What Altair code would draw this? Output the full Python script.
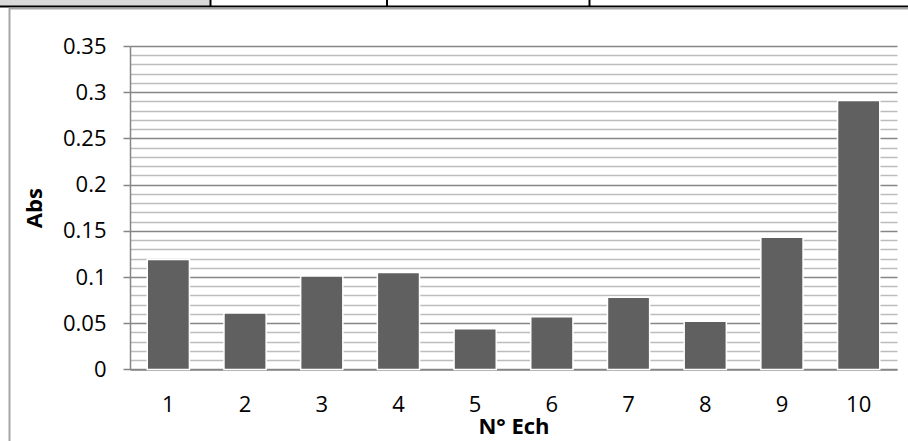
import altair as alt
import pandas as pd

# ---- data ----
samples = ["1", "2", "3", "4", "5", "6", "7", "8", "9", "10"]
absorbance = [0.119, 0.061, 0.101, 0.105, 0.044, 0.057, 0.078, 0.052, 0.143, 0.291]
major_ticks = [0, 0.05, 0.1, 0.15, 0.2, 0.25, 0.3, 0.35]
minor_ticks = [0.01, 0.02, 0.03, 0.04, 0.06, 0.07, 0.08, 0.09,
               0.11, 0.12, 0.13, 0.14, 0.16, 0.17, 0.18, 0.19,
               0.21, 0.22, 0.23, 0.24, 0.26, 0.27, 0.28, 0.29,
               0.31, 0.32, 0.33, 0.34]

df = pd.DataFrame({"ech": samples, "abs": absorbance})

FONT = "Open Sans"
GRID_MAJOR = "#868686"
GRID_MINOR = "#bdbdbd"

yscale = alt.Scale(domain=[0, 0.35], nice=False, zero=True)
xscale = alt.Scale(paddingInner=0.45, paddingOuter=0.225)

x_axis = alt.Axis(
    title="N° Ech", titleFont=FONT, titleFontSize=22, titleFontWeight="bold",
    titleColor="black", titlePadding=1,
    labelFont=FONT, labelFontSize=22, labelColor="black", labelAngle=0,
    labelPadding=25, ticks=False, domainColor=GRID_MAJOR, domainWidth=1.5,
    grid=False,
)

y_axis = alt.Axis(
    title="Abs", titleFont=FONT, titleFontSize=22, titleFontWeight="bold",
    titleColor="black", titlePadding=16,
    labelFont=FONT, labelFontSize=22, labelColor="black",
    labelPadding=17, values=major_ticks, format="~g",
    tickSize=7, tickColor=GRID_MAJOR, tickWidth=1.5,
    domainColor=GRID_MAJOR, domainWidth=1.5,
    grid=True, gridColor=GRID_MAJOR, gridWidth=1.5,
)

minor_axis = alt.Axis(
    orient="right", title=None, labels=False, ticks=False, domain=False,
    values=minor_ticks, grid=True, gridColor=GRID_MINOR, gridWidth=1.6,
)

minor = alt.Chart(df).mark_point(opacity=0).encode(
    x=alt.X("ech:O", sort=None, scale=xscale, axis=x_axis),
    y=alt.Y("abs:Q", scale=yscale, axis=minor_axis),
)

bars = alt.Chart(df).mark_bar(color="#606060", stroke="white", strokeWidth=1.5).encode(
    x=alt.X("ech:O", sort=None, scale=xscale, axis=x_axis),
    y=alt.Y("abs:Q", scale=yscale, axis=y_axis),
)

one = pd.DataFrame({"k": [0]})

# decorations: spreadsheet cells above and the chart frame
cell_fill = alt.Chart(one).mark_rect(color="#d9d9d9").encode(
    x=alt.value(-130), x2=alt.value(80), y=alt.value(-46), y2=alt.value(-40))
cell_line = alt.Chart(one).mark_rule(color="black", strokeWidth=2).encode(
    x=alt.value(-130), x2=alt.value(778), y=alt.value(-39.5))
cell_v1 = alt.Chart(one).mark_rule(color="black", strokeWidth=2).encode(
    x=alt.value(80.5), y=alt.value(-46), y2=alt.value(-40))
cell_v2 = alt.Chart(one).mark_rule(color="black", strokeWidth=2).encode(
    x=alt.value(257), y=alt.value(-46), y2=alt.value(-40))
cell_v3 = alt.Chart(one).mark_rule(color="black", strokeWidth=2).encode(
    x=alt.value(459.5), y=alt.value(-46), y2=alt.value(-40))
frame_top = alt.Chart(one).mark_rule(color="#a6a6a6", strokeWidth=2).encode(
    x=alt.value(-121), x2=alt.value(778), y=alt.value(-37.5))
frame_left = alt.Chart(one).mark_rule(color="#a6a6a6", strokeWidth=2).encode(
    x=alt.value(-120.5), y=alt.value(-38), y2=alt.value(400))

chart = alt.layer(
    minor, bars, cell_fill, cell_line, cell_v1, cell_v2, cell_v3, frame_top, frame_left
).resolve_axis(y="independent").properties(
    width=767, height=323.4,
    autosize=alt.AutoSizeParams(type="none"),
    padding={"left": 130, "top": 46, "right": 11, "bottom": 71.6},
    background="white",
).configure_view(stroke=None)

chart.save("out.html", embed_options={"renderer": "svg", "actions": False})
